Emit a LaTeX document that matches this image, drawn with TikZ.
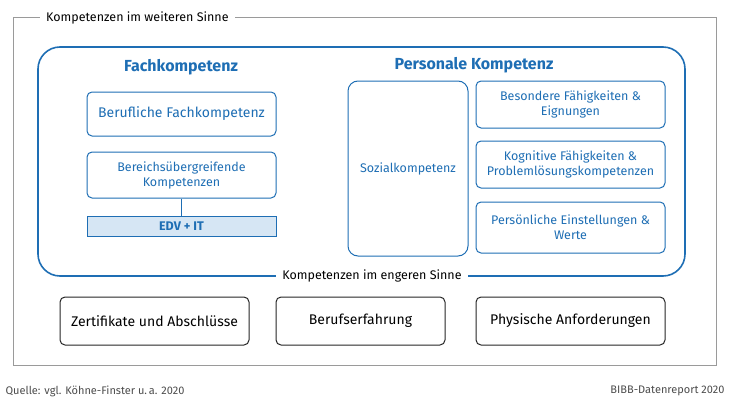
\documentclass[tikz,border=0pt]{standalone}
\usepackage{fontspec}
\setmainfont{Fira Sans}
\usetikzlibrary{positioning}
\definecolor{bibbblue}{HTML}{1E6EB4}
\definecolor{edvfill}{HTML}{D6E6F4}
\definecolor{framegrey}{HTML}{9A9A9A}
\newcommand{\fsbox}{\fontsize{12.5}{15}\selectfont}
\newcommand{\fsbig}{\fontsize{14}{17}\selectfont}
\newcommand{\fshead}{\fontsize{16}{19}\selectfont\bfseries}
\newcommand{\fsfoot}{\fontsize{11}{13}\selectfont}
\tikzset{
  kbox/.style={draw=bibbblue, line width=1pt, rounded corners=5pt, fill=white,
    text=bibbblue, align=center, font=\fsbox},
  bbox/.style={draw=black!85, line width=1pt, rounded corners=5pt, fill=white,
    align=center, font=\fsbig},
  frametitle/.style={fill=white, inner xsep=6pt, font=\fsbox},
}
\begin{document}
\begin{tikzpicture}[x=1pt,y=-1pt]
  \useasboundingbox (0,0) rectangle (730,404);
  % outer frame
  \draw[framegrey, line width=1pt] (13,18) rectangle (716,365);
  \node[frametitle, anchor=west] (weit) at (40,18) {Kompetenzen im weiteren Sinne};
  % inner frame
  \draw[bibbblue, line width=1.6pt, rounded corners=22pt] (38,47) rectangle (685,276);
  \node[frametitle] (eng) at (372,276) {Kompetenzen im engeren Sinne};
  \node[text=bibbblue, font=\fshead] (fach) at (181,67) {Fachkompetenz};
  \node[text=bibbblue, font=\fshead] (pers) at (474,65) {Personale Kompetenz};
  % Fachkompetenz
  \node[kbox, minimum width=189pt, minimum height=44pt, font=\fsbig] (beruf) at (181.5,114) {Berufliche Fachkompetenz};
  \node[kbox, minimum width=189pt, minimum height=46pt] (bereich) at (181.5,175) {Bereichsübergreifende\\Kompetenzen};
  \node[kbox, rounded corners=0pt, fill=edvfill, minimum width=189pt, minimum height=20pt, inner sep=1pt, font=\fsbox\bfseries] (edv) at (181.5,226) {EDV + IT};
  \draw[bibbblue, line width=1pt] (bereich) -- (edv);
  % Personale Kompetenz
  \node[kbox, rounded corners=10pt, minimum width=120pt, minimum height=175pt] (sozial) at (408,168.5) {Sozialkompetenz};
  \node[kbox, minimum width=189pt, minimum height=47pt] (besond) at (570.5,104.5) {Besondere Fähigkeiten \&\\Eignungen};
  \node[kbox, minimum width=189pt, minimum height=47pt] (kogn) at (570.5,164.5) {Kognitive Fähigkeiten \&\\Problemlösungskompetenzen};
  \node[kbox, minimum width=189pt, minimum height=51pt] (einst) at (570.5,227.5) {Persönliche Einstellungen \&\\Werte};
  % weitere Kompetenzen
  \node[bbox, minimum width=189pt, minimum height=48pt] (zert) at (154.5,321) {Zertifikate und Abschlüsse};
  \node[bbox, minimum width=169pt, minimum height=48pt] (erf) at (360.5,321) {Berufserfahrung};
  \node[bbox, minimum width=189pt, minimum height=48pt] (phys) at (570.5,321) {Physische Anforderungen};
  % footer
  \node[anchor=west, font=\fsfoot, text=black!70] (quelle) at (2,391) {Quelle: vgl. Köhne-Finster u.\,a. 2020};
  \node[anchor=east, font=\fsfoot, text=black!70] (report) at (728,391) {BIBB-Datenreport 2020};
\end{tikzpicture}
\end{document}
